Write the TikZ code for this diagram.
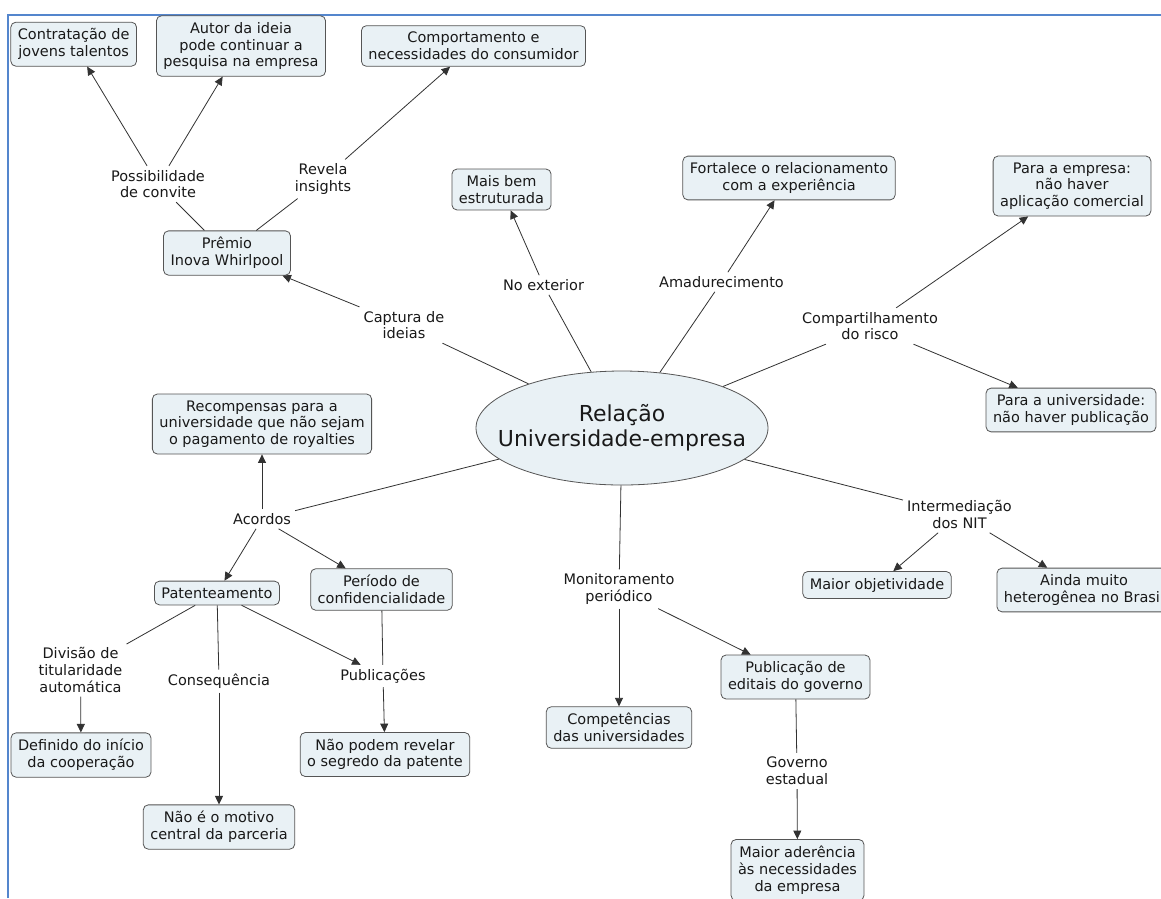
\documentclass[tikz,border=0pt]{standalone}
\usepackage{fontspec}
\setmainfont{DejaVu Sans}
\usetikzlibrary{shapes.geometric,arrows.meta}

\definecolor{boxfill}{RGB}{233,241,245}
\definecolor{boxline}{RGB}{85,85,85}
\definecolor{linkcol}{RGB}{50,50,50}
\definecolor{txt}{RGB}{25,25,25}
\definecolor{frameblue}{RGB}{84,134,205}

\tikzset{
  concept/.style={draw=boxline, fill=boxfill, rounded corners=5pt, align=center,
    inner xsep=7pt, inner ysep=6.5pt, line width=0.8pt, text=txt,
    font=\fontsize{14.5}{16.7}\selectfont},
  phrase/.style={align=center, inner xsep=4pt, inner ysep=4pt, text=txt,
    font=\fontsize{14.5}{16.7}\selectfont},
  link/.style={draw=linkcol, line width=0.8pt},
  arr/.style={link, -{Triangle[length=8.5pt,width=8pt]}},
}

\begin{document}
\begin{tikzpicture}[x=1pt,y=-1pt]
\clip (0,0) rectangle (1161,898);
\fill[white] (0,0) rectangle (1161,898);

% page frame
\draw[frameblue, line width=2pt] (8,898) -- (8,15) -- (1161,15);

% central concept: the ellipse keeps its own size, the title sits on top
\node[ellipse, draw=boxline, fill=boxfill, line width=0.8pt, inner sep=0pt,
      minimum width=292pt, minimum height=114pt] (central) at (622,428) {};
\node[align=center, text=txt, inner sep=0pt,
      font=\fontsize{22}{25}\selectfont] (centraltext) at (central.center)
      {Relação\\Universidade-empresa};

% concepts
\node[concept] (contrat) at (73.7,44.2) {Contratação de\\jovens talentos};
\node[concept] (autor) at (241,46) {Autor da ideia\\pode continuar a\\pesquisa na empresa};
\node[concept] (comport) at (473.5,46) {Comportamento e\\necessidades do consumidor};
\node[concept] (premio) at (227,253) {Prêmio\\Inova Whirlpool};
\node[concept] (maisbem) at (501.5,189.5) {Mais bem\\estruturada};
\node[concept] (fortal) at (789,178) {Fortalece o relacionamento\\com a experiência};
\node[concept] (paraemp) at (1072,186) {Para a empresa:\\não haver\\aplicação comercial};
\node[concept] (parauni) at (1071,410) {Para a universidade:\\não haver publicação};
\node[concept] (recomp) at (262,424) {Recompensas para a\\universidade que não sejam\\o pagamento de royalties};
\node[concept] (patent) at (217,593) {Patenteamento};
\node[concept] (periodo) at (381.5,589.5) {Período de\\confidencialidade};
\node[concept] (maiorobj) at (877,585) {Maior objetividade};
\node[concept] (ainda) at (1084,590) {Ainda muito\\heterogênea no Brasil};
\node[concept] (definido) at (81,755) {Definido do início\\da cooperação};
\node[concept] (naopodem) at (385,754.5) {Não podem revelar\\o segredo da patente};
\node[concept] (naoe) at (219,827) {Não é o motivo\\central da parceria};
\node[concept] (publicacao) at (795.5,677) {Publicação de\\editais do governo};
\node[concept] (compet) at (619,727.5) {Competências\\das universidades};
\node[concept] (aderencia) at (797.5,870) {Maior aderência\\às necessidades\\da empresa};

% linking phrases
\node[phrase] (possib) at (158,184) {Possibilidade\\de convite};
\node[phrase] (revela) at (323,179) {Revela\\insights};
\node[phrase] (captura) at (404,325) {Captura de\\ideias};
\node[phrase] (noext) at (543.5,285) {No exterior};
\node[phrase] (amad) at (721.5,282) {Amadurecimento};
\node[phrase] (compart) at (870,326) {Compartilhamento\\do risco};
\node[phrase] (acordos) at (262,519) {Acordos};
\node[phrase] (monit) at (619,589) {Monitoramento\\periódico};
\node[phrase] (interm) at (959.5,514.5) {Intermediação\\dos NIT};
\node[phrase] (divisao) at (80.5,670) {Divisão de\\titularidade\\automática};
\node[phrase] (conseq) at (219,681) {Consequência};
\node[phrase] (publicacoes) at (383,676) {Publicações};
\node[phrase] (governo) at (797,771) {Governo\\estadual};

% connections
\draw[link] (premio) -- (possib);
\draw[arr] (possib) -- (contrat);
\draw[arr] (possib) -- (autor);
\draw[link] (premio) -- (revela);
\draw[arr] (revela) -- (comport);

\draw[link] (central) -- (captura);
\draw[arr] (captura) -- (premio);
\draw[link] (central) -- (noext);
\draw[arr] (noext) -- (maisbem);
\draw[link] (central) -- (amad);
\draw[arr] (amad) -- (fortal);
\draw[link] (central) -- (compart);
\draw[arr] (compart) -- (paraemp);
\draw[arr] (compart) -- (parauni);

\draw[link] (central) -- (acordos);
\draw[arr] (acordos) -- (recomp);
\draw[arr] (acordos) -- (patent);
\draw[arr] (acordos) -- (periodo);

\draw[link] (central) -- (monit);
\draw[arr] (monit) -- (compet);
\draw[arr] (monit) -- (publicacao);

\draw[link] (central) -- (interm);
\draw[arr] (interm) -- (maiorobj);
\draw[arr] (interm) -- (ainda);

\draw[link] (patent) -- (divisao);
\draw[arr] (divisao) -- (definido);
\draw[link] (patent) -- (conseq);
\draw[arr] (conseq) -- (naoe);
\draw[arr] (patent) -- (publicacoes);
\draw[link] (periodo) -- (publicacoes);
\draw[arr] (publicacoes) -- (naopodem);

\draw[link] (publicacao) -- (governo);
\draw[arr] (governo) -- (aderencia);
\end{tikzpicture}
\end{document}
